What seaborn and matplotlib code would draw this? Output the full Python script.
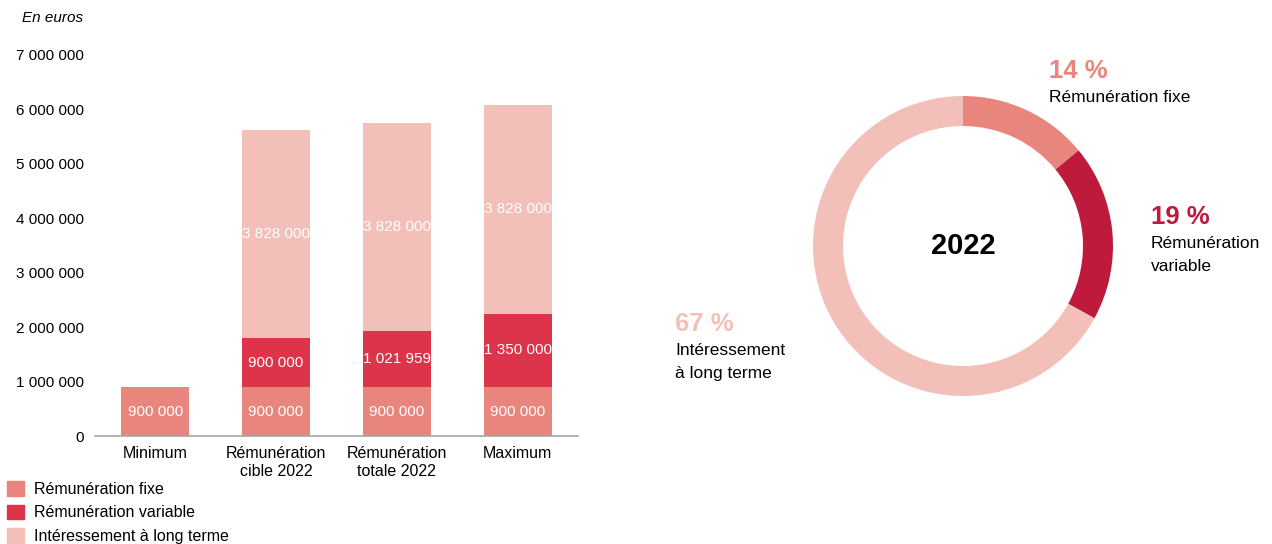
import numpy as np
import matplotlib
matplotlib.use("Agg")
import matplotlib.pyplot as plt
import matplotlib.patches as mpatches
import seaborn as sns

# -------------------
# Data
categories = ["Minimum", "Rémunération\ncible 2022", "Rémunération\ntotale 2022", "Maximum"]
fixe = [900000, 900000, 900000, 900000]
variable = [0, 900000, 1021959, 1350000]
long_terme = [0, 3828000, 3828000, 3828000]

series_names = ["Rémunération fixe", "Rémunération variable", "Intéressement à long terme"]
bar_colors = ["#E8867E", "#DC344A", "#F2C0B8"]

donut_shares = [14, 19, 67]
donut_colors = ["#E8867E", "#BE1A3C", "#F2C0B8"]
donut_labels = ["Rémunération fixe", "Rémunération\nvariable", "Intéressement\nà long terme"]
donut_year = "2022"

y_ticks = [0, 1000000, 2000000, 3000000, 4000000, 5000000, 6000000, 7000000]


def fmt(v):
    return f"{v:,}".replace(",", " ")


# -------------------
sns.set_style("white")
plt.rcParams["font.family"] = ["Liberation Sans", "DejaVu Sans"]
plt.rcParams["text.color"] = "black"
plt.rcParams["xtick.color"] = "black"
plt.rcParams["ytick.color"] = "black"

W, H = 1272, 544
fig = plt.figure(figsize=(W / 100, H / 100), dpi=100)

# -------------------
# Stacked bars
ax = fig.add_axes([95 / W, 1 - 436 / H, (578 - 95) / W, (436 - 55) / H])
x = np.arange(len(categories))
bottom = np.zeros(len(categories))
for name, vals, col in zip(series_names, [fixe, variable, long_terme], bar_colors):
    sns.barplot(x=x, y=vals, bottom=bottom, color=col, saturation=1, width=0.565,
                errorbar=None, native_scale=True, linewidth=0, ax=ax)
    cont = ax.containers[-1]
    labels = [fmt(v) if v > 0 else "" for v in vals]
    ax.bar_label(cont, labels=labels, label_type="center", color="white", fontsize=11)
    bottom = bottom + np.array(vals)

ax.set_xlim(-0.5, 3.5)
ax.set_ylim(0, 7000000)
ax.set_xticks(x)
ax.set_xticklabels(categories, fontsize=11.5, linespacing=1.25)
ax.set_yticks(y_ticks)
ax.set_yticklabels([fmt(v) for v in y_ticks], fontsize=11)
ax.tick_params(axis="both", length=0)
ax.tick_params(axis="y", pad=8)
ax.tick_params(axis="x", pad=7)
ax.set_xlabel("")
ax.set_ylabel("")
for s in ["top", "right", "left"]:
    ax.spines[s].set_visible(False)
ax.spines["bottom"].set_color("#A6A6A6")
ax.spines["bottom"].set_linewidth(1.2)

fig.text(22 / W, 1 - 18 / H, "En euros", fontsize=11, style="italic", va="center", ha="left")

handles = [mpatches.Patch(color=c, label=n) for n, c in zip(series_names, bar_colors)]
fig.legend(handles=handles, loc="upper left", bbox_to_anchor=(2 / W, 1 - 476 / H),
           frameon=False, fontsize=11.5, handlelength=1.05, handleheight=1.05,
           handletextpad=0.65, labelspacing=0.5, borderaxespad=0, borderpad=0.3)

# -------------------
# Donut
cx, cy, r = 963, 246, 150
ax2 = fig.add_axes([(cx - r) / W, 1 - (cy + r) / H, 2 * r / W, 2 * r / H])
ax2.pie(donut_shares, colors=donut_colors, startangle=90, counterclock=False,
        wedgeprops=dict(width=0.2, linewidth=0))
ax2.set_xlim(-1, 1)
ax2.set_ylim(-1, 1)
ax2.text(0, 0, donut_year, ha="center", va="center", fontsize=21, fontweight="bold")

label_pos = [(1049, 71), (1151, 217), (675, 324)]
for share, lab, col, (px, py) in zip(donut_shares, donut_labels, donut_colors, label_pos):
    fig.text(px / W, 1 - py / H, f"{share} %", color=col, fontsize=18.5,
             fontweight="bold", ha="left", va="center")
    fig.text(px / W, 1 - (py + 19) / H, lab, fontsize=12.5, ha="left", va="top",
             linespacing=1.7)

fig.savefig("out.png", dpi=100)
